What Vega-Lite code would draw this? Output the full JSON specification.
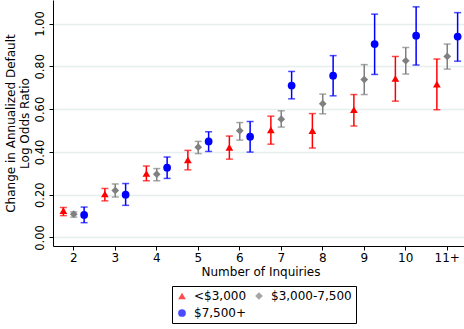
{
  "$schema": "https://vega.github.io/schema/vega-lite/v6.json",
  "width": 411,
  "height": 246,
  "autosize": {"type": "none"},
  "padding": {"left": 53, "top": 0, "right": 0, "bottom": 83},
  "background": "white",
  "config": {
    "view": {"stroke": null},
    "font": "DejaVu Sans",
    "axis": {"labelFont": "DejaVu Sans", "titleFont": "DejaVu Sans", "labelColor": "black", "titleColor": "black", "titleFontWeight": "normal", "domainColor": "black", "tickColor": "black", "domainWidth": 1, "tickWidth": 1},
    "legend": {"labelFont": "DejaVu Sans"}
  },
  "data": {
    "values": [
      {"inquiries": "2", "group": "<$3,000", "est": 0.125, "lo": 0.102, "hi": 0.140},
      {"inquiries": "2", "group": "$3,000-7,500", "est": 0.109, "lo": 0.095, "hi": 0.119},
      {"inquiries": "2", "group": "$7,500+", "est": 0.105, "lo": 0.069, "hi": 0.142},
      {"inquiries": "3", "group": "<$3,000", "est": 0.203, "lo": 0.171, "hi": 0.229},
      {"inquiries": "3", "group": "$3,000-7,500", "est": 0.220, "lo": 0.189, "hi": 0.250},
      {"inquiries": "3", "group": "$7,500+", "est": 0.200, "lo": 0.150, "hi": 0.252},
      {"inquiries": "4", "group": "<$3,000", "est": 0.299, "lo": 0.265, "hi": 0.334},
      {"inquiries": "4", "group": "$3,000-7,500", "est": 0.296, "lo": 0.265, "hi": 0.322},
      {"inquiries": "4", "group": "$7,500+", "est": 0.326, "lo": 0.276, "hi": 0.376},
      {"inquiries": "5", "group": "<$3,000", "est": 0.363, "lo": 0.316, "hi": 0.407},
      {"inquiries": "5", "group": "$3,000-7,500", "est": 0.422, "lo": 0.392, "hi": 0.449},
      {"inquiries": "5", "group": "$7,500+", "est": 0.449, "lo": 0.402, "hi": 0.494},
      {"inquiries": "6", "group": "<$3,000", "est": 0.421, "lo": 0.366, "hi": 0.474},
      {"inquiries": "6", "group": "$3,000-7,500", "est": 0.499, "lo": 0.455, "hi": 0.537},
      {"inquiries": "6", "group": "$7,500+", "est": 0.471, "lo": 0.399, "hi": 0.542},
      {"inquiries": "7", "group": "<$3,000", "est": 0.503, "lo": 0.436, "hi": 0.567},
      {"inquiries": "7", "group": "$3,000-7,500", "est": 0.553, "lo": 0.516, "hi": 0.592},
      {"inquiries": "7", "group": "$7,500+", "est": 0.710, "lo": 0.648, "hi": 0.776},
      {"inquiries": "8", "group": "<$3,000", "est": 0.499, "lo": 0.418, "hi": 0.579},
      {"inquiries": "8", "group": "$3,000-7,500", "est": 0.625, "lo": 0.578, "hi": 0.670},
      {"inquiries": "8", "group": "$7,500+", "est": 0.756, "lo": 0.662, "hi": 0.850},
      {"inquiries": "9", "group": "<$3,000", "est": 0.597, "lo": 0.521, "hi": 0.668},
      {"inquiries": "9", "group": "$3,000-7,500", "est": 0.738, "lo": 0.668, "hi": 0.808},
      {"inquiries": "9", "group": "$7,500+", "est": 0.904, "lo": 0.762, "hi": 1.044},
      {"inquiries": "10", "group": "<$3,000", "est": 0.743, "lo": 0.637, "hi": 0.846},
      {"inquiries": "10", "group": "$3,000-7,500", "est": 0.826, "lo": 0.764, "hi": 0.888},
      {"inquiries": "10", "group": "$7,500+", "est": 0.943, "lo": 0.806, "hi": 1.078},
      {"inquiries": "11+", "group": "<$3,000", "est": 0.717, "lo": 0.597, "hi": 0.834},
      {"inquiries": "11+", "group": "$3,000-7,500", "est": 0.846, "lo": 0.787, "hi": 0.904},
      {"inquiries": "11+", "group": "$7,500+", "est": 0.939, "lo": 0.824, "hi": 1.051}
    ]
  },
  "encoding": {
    "x": {
      "field": "inquiries", "type": "ordinal",
      "sort": ["2", "3", "4", "5", "6", "7", "8", "9", "10", "11+"],
      "scale": {"range": [0, 415], "paddingInner": 0, "paddingOuter": 0},
      "axis": {"title": "Number of Inquiries", "labelAngle": 0, "labelFontSize": 12, "titleFontSize": 12, "tickSize": 4, "labelPadding": 2, "titlePadding": 3, "grid": false}
    },
    "xOffset": {
      "field": "group", "type": "nominal",
      "sort": ["<$3,000", "$3,000-7,500", "$7,500+"],
      "scale": {"paddingInner": 0, "paddingOuter": 0.5}
    },
    "color": {
      "field": "group", "type": "nominal",
      "sort": ["<$3,000", "$3,000-7,500", "$7,500+"],
      "scale": {"domain": ["<$3,000", "$3,000-7,500", "$7,500+"], "range": ["#ff0000", "#808080", "#0000ff"]},
      "legend": {"title": null, "orient": "none", "legendX": 119, "legendY": 286, "columns": 2, "direction": "horizontal", "strokeColor": "black", "fillColor": "white", "padding": 4, "labelFontSize": 12, "symbolSize": 60, "columnPadding": 6, "rowPadding": 5, "labelOffset": 6, "symbolStrokeWidth": 0}
    }
  },
  "layer": [
    {
      "mark": {"type": "rule", "strokeWidth": 1.5},
      "encoding": {
        "y": {"field": "lo", "type": "quantitative", "scale": {"domain": [-0.04, 1.11], "nice": false, "zero": false},
          "axis": {"values": [0, 0.2, 0.4, 0.6, 0.8, 1.0], "format": ".2f", "title": ["Change in Annualized Default", "Log Odds Ratio"], "labelAngle": -90, "labelAlign": "center", "labelBaseline": "bottom", "labelFontSize": 11.5, "titleFontSize": 12, "tickSize": 4, "labelPadding": 4, "titlePadding": 3, "grid": true, "gridColor": "#e6eff0", "gridWidth": 1.5}},
        "y2": {"field": "hi"}
      }
    },
    {
      "mark": {"type": "tick", "thickness": 1.5, "size": 7, "orient": "horizontal"},
      "encoding": {"y": {"field": "lo", "type": "quantitative"}}
    },
    {
      "mark": {"type": "tick", "thickness": 1.5, "size": 7, "orient": "horizontal"},
      "encoding": {"y": {"field": "hi", "type": "quantitative"}}
    },
    {
      "mark": {"type": "point", "filled": true, "opacity": 1, "size": 60},
      "encoding": {
        "y": {"field": "est", "type": "quantitative"},
        "shape": {
          "field": "group", "type": "nominal",
          "sort": ["<$3,000", "$3,000-7,500", "$7,500+"],
          "scale": {"domain": ["<$3,000", "$3,000-7,500", "$7,500+"], "range": ["triangle-up", "diamond", "circle"]},
          "legend": {"title": null, "orient": "none", "legendX": 119, "legendY": 286, "columns": 2, "direction": "horizontal", "strokeColor": "black", "fillColor": "white", "padding": 4, "labelFontSize": 12, "symbolSize": 60, "columnPadding": 6, "rowPadding": 5, "labelOffset": 6, "symbolStrokeWidth": 0}
        }
      }
    }
  ]
}
